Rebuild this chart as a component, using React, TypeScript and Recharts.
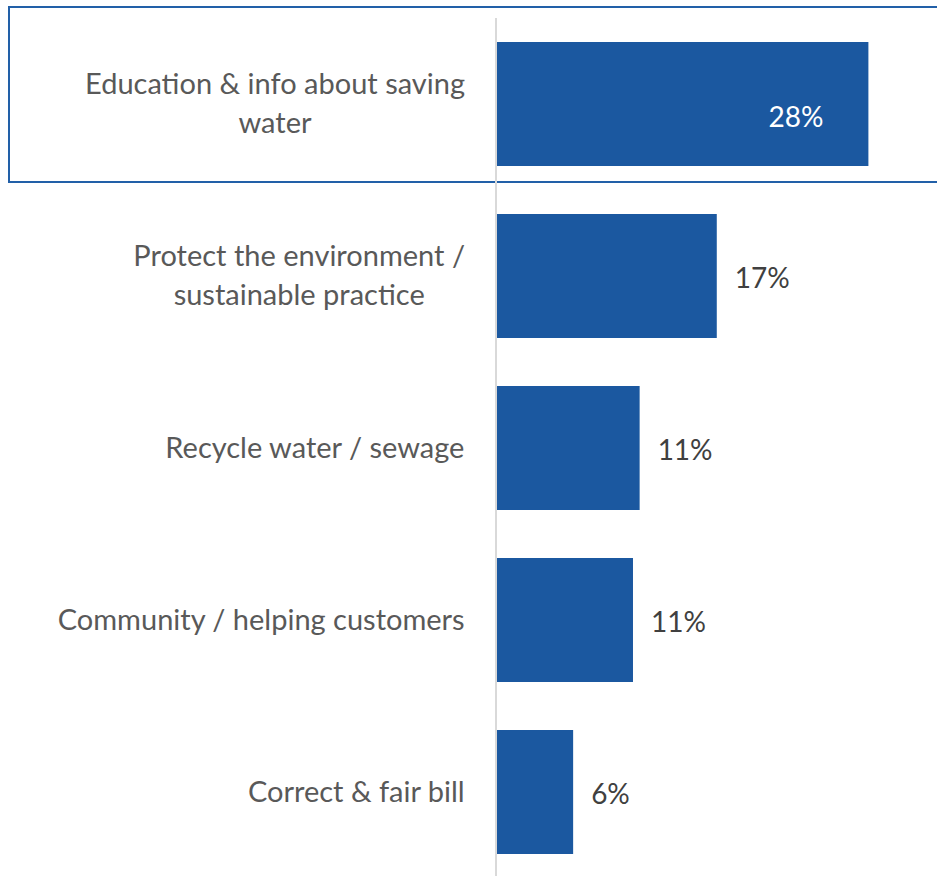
import { BarChart, Bar, XAxis, YAxis, LabelList } from 'recharts';

const categories = [
  'Education & info about saving water',
  'Protect the environment / sustainable practice',
  'Recycle water / sewage',
  'Community / helping customers',
  'Correct & fair bill',
];
const shares = [28.0, 16.6, 10.8, 10.3, 5.8];
const shareLabels = ['28%', '17%', '11%', '11%', '6%'];

const data = categories.map((name, i) => ({ name, value: shares[i], label: shareLabels[i] }));

const FONT = 'Lato, "Open Sans", sans-serif';
const TICK_SIZE = 29;
const BAR = '#1B58A0';

// greedy word wrap by character count
function wrap(label: string, maxChars: number) {
  const lines: string[] = [];
  let cur = '';
  for (const w of label.split(' ')) {
    const next = cur ? cur + ' ' + w : w;
    if (next.length > maxChars && cur) {
      lines.push(cur);
      cur = w;
    } else {
      cur = next;
    }
  }
  if (cur) lines.push(cur);
  return lines;
}

let ctx: CanvasRenderingContext2D | null = null;
function measure(s: string) {
  if (!ctx) ctx = document.createElement('canvas').getContext('2d');
  if (!ctx) return s.length * TICK_SIZE * 0.48;
  ctx.font = `${TICK_SIZE}px Lato`;
  return ctx.measureText(s).width;
}

function CategoryTick(props: any) {
  const { x, y, payload } = props;
  const lines = wrap(payload.value, 30);
  const lh = 39;
  const right = x - 23;
  const blockW = Math.max(...lines.map(measure));
  const cx = right - blockW / 2;
  const start = y - 2.5 - ((lines.length - 1) * lh) / 2;
  return (
    <text
      textAnchor="middle"
      fill="#595959"
      fontSize={TICK_SIZE}
      fontFamily={FONT}
      dominantBaseline="central"
    >
      {lines.map((l, i) => (
        <tspan key={i} x={cx} y={start + i * lh}>
          {l}
        </tspan>
      ))}
    </text>
  );
}

function ValueLabel(props: any) {
  const { x, y, width, height, value, index } = props;
  const inside = index === 0;
  return (
    <text
      x={inside ? x + width - 45 : x + width + 18}
      y={y + height / 2 + (inside ? 12 : 1)}
      textAnchor={inside ? 'end' : 'start'}
      dominantBaseline="central"
      fill={inside ? '#ffffff' : '#404040'}
      fontSize={28}
      fontFamily={FONT}
    >
      {value}
    </text>
  );
}

export default function App() {
  return (
    <div
      style={{
        position: 'absolute',
        top: 0,
        left: 0,
        width: 937,
        height: 876,
        overflow: 'hidden',
        background: '#fff',
      }}
    >
      <div
        style={{
          position: 'absolute',
          left: 8,
          top: 6,
          width: 940,
          height: 173,
          border: '2px solid #2260A8',
          pointerEvents: 'none',
        }}
      />
      <BarChart
        width={937}
        height={878}
        data={data}
        layout="vertical"
        margin={{ top: 18, right: 42, bottom: 0, left: 0 }}
        barCategoryGap={24}
      >
        <XAxis type="number" domain={[0, 30]} hide />
        <YAxis
          type="category"
          dataKey="name"
          width={496}
          axisLine={{ stroke: '#d9d9d9', strokeWidth: 2 }}
          tickLine={false}
          tick={<CategoryTick />}
          interval={0}
        />
        <Bar dataKey="value" fill={BAR} isAnimationActive={false}>
          <LabelList dataKey="label" content={<ValueLabel />} />
        </Bar>
      </BarChart>
    </div>
  );
}
